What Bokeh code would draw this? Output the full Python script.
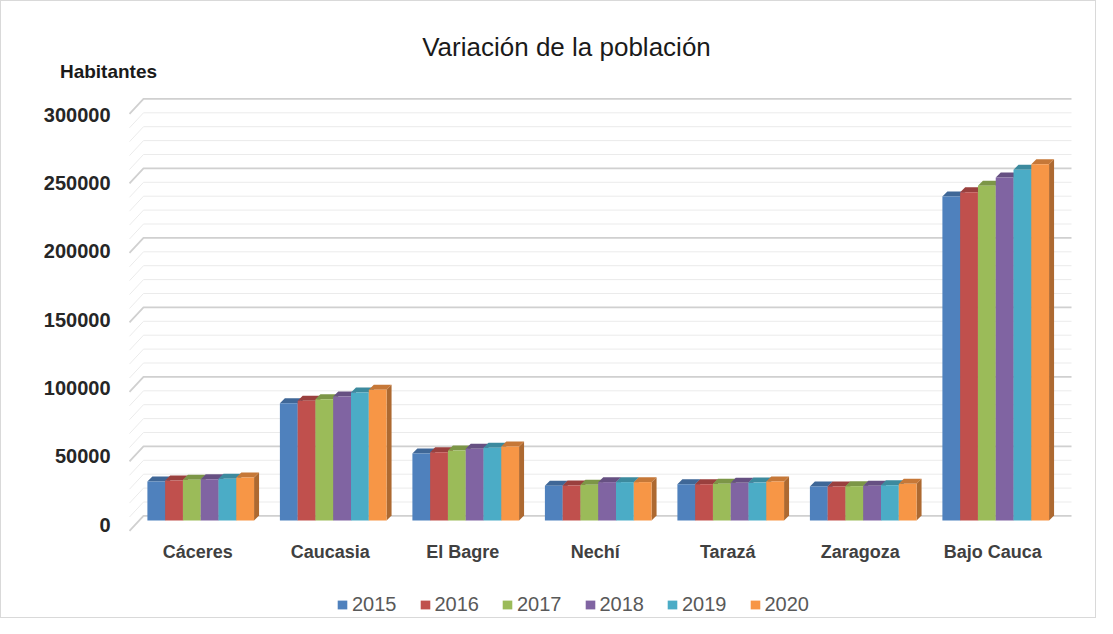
from bokeh.plotting import figure
from bokeh.models import Range1d, Legend, LegendItem
from bokeh.core.properties import value
from bokeh.embed import file_html
from bokeh.resources import INLINE

# ---------------- data ----------------
categories = ["Cáceres", "Caucasia", "El Bagre", "Nechí", "Tarazá", "Zaragoza", "Bajo Cauca"]
years = ["2015", "2016", "2017", "2018", "2019", "2020"]
v2015 = [28100, 84400, 48200, 25000, 26100, 24500, 233100]
v2016 = [28800, 86100, 49100, 25200, 26100, 24500, 236200]
v2017 = [29300, 87300, 50400, 25700, 26400, 24700, 240800]
v2018 = [29700, 89200, 51600, 27600, 27100, 25000, 246800]
v2019 = [30000, 92100, 52300, 27600, 27300, 25400, 252300]
v2020 = [30900, 94000, 53200, 27600, 28100, 26400, 256300]
series = [v2015, v2016, v2017, v2018, v2019, v2020]
y_ticks = [0, 50000, 100000, 150000, 200000, 250000, 300000]
y_tick_labels = ["0", "50000", "100000", "150000", "200000", "250000", "300000"]
grid_step = 10000
title_text = "Variación de la población"
y_title = "Habitantes"

# ---------------- styling ----------------
front_colors = ["#4F81BD", "#C0504D", "#9BBB59", "#8064A2", "#4BACC6", "#F79646"]
top_colors = ["#3F6797", "#9A403E", "#7C9647", "#665082", "#3C8A9E", "#C67838"]
side_colors = ["#375A84", "#863836", "#6C833E", "#594671", "#34788A", "#AD6931"]

W, H = 1096, 618
X0_PX = 130.0          # canvas x of category 0 edge
PX_PER_CAT = 132.5
Y0_PX = 519.0          # canvas y of value 0 at the bars' front face
PX_PER_VAL = 1.39 / 1000.0
LABEL_Y0_PX = 523.0    # canvas y of the "0" tick label
LABEL_PX_PER_VAL = 410.0 / 300000.0
FONT = "Liberation Sans"


def dxp(px):
    return px / PX_PER_CAT


def dyp(px):
    return px / PX_PER_VAL


def xd(px):
    return (px - X0_PX) / PX_PER_CAT


def yd(py):
    return (Y0_PX - py) / PX_PER_VAL


p = figure(width=W, height=H, output_backend="svg", toolbar_location=None,
           x_range=Range1d(xd(0), xd(W)), y_range=Range1d(yd(H), yd(0)),
           x_axis_location=None, y_axis_location=None,
           min_border_left=0, min_border_right=0, min_border_top=0, min_border_bottom=0)
p.outline_line_color = None
p.xgrid.visible = False
p.ygrid.visible = False
p.background_fill_color = "white"
p.border_fill_color = "white"
p.styles = {"border": "1px solid #d9d9d9"}

# ---------------- 3D gridlines (back wall + left slant) ----------------
x_front = xd(128)
x_back = xd(142)
x_end = xd(1070)
front_drop = dyp(10.4)
back_rise = dyp(4.6)
for major in (False, True):
    xs, ys = [], []
    v = 0
    while v <= y_ticks[-1]:
        if (v in y_ticks) == major:
            xs.append([x_front, x_back, x_end])
            ys.append([v - front_drop, v + back_rise, v + back_rise])
        v += grid_step
    p.multi_line(xs, ys, line_color="#d0d0d0" if major else "#ebebeb",
                 line_width=1.8 if major else 1.0)

# ---------------- 3D bars ----------------
group_off = 0.12
group_w = 0.805
bw = group_w / len(series)
ddx = dxp(5)
ddy = dyp(5)
legend_items = []
for j, vals in enumerate(series):
    side_xs, side_ys, top_xs, top_ys = [], [], [], []
    lefts, rights = [], []
    for i, v in enumerate(vals):
        l = i + group_off + j * bw
        r = l + bw
        lefts.append(l)
        rights.append(r)
        side_xs.append([r, r, r + ddx, r + ddx])
        side_ys.append([0, v, v + ddy, ddy])
        top_xs.append([l, r, r + ddx, l + ddx])
        top_ys.append([v, v, v + ddy, v + ddy])
    p.patches(side_xs, side_ys, fill_color=side_colors[j], line_color=None)
    p.patches(top_xs, top_ys, fill_color=top_colors[j], line_color=None)
    rf = p.quad(left=lefts, right=rights, bottom=0, top=vals,
                fill_color=front_colors[j], line_color=None)
    legend_items.append(LegendItem(label=years[j], renderers=[rf]))

# ---------------- axis texts ----------------
p.text(x=[xd(109)] * len(y_ticks),
       y=[yd(LABEL_Y0_PX - t * LABEL_PX_PER_VAL) for t in y_ticks],
       text=y_tick_labels, text_align="right", text_baseline="middle",
       text_font=value(FONT), text_font_style="bold", text_font_size="20px",
       text_color="#262626")
p.text(x=[i + 0.5 for i in range(len(categories))],
       y=[yd(550)] * len(categories),
       text=categories, text_align="center", text_baseline="middle",
       text_font=value(FONT), text_font_style="bold", text_font_size="18px",
       text_color="#404040")
p.text(x=[xd(565)], y=[yd(45)], text=[title_text],
       text_align="center", text_baseline="middle",
       text_font=value(FONT), text_font_size="26px", text_color="#1a1a1a")
p.text(x=[xd(107)], y=[yd(70)], text=[y_title],
       text_align="center", text_baseline="middle",
       text_font=value(FONT), text_font_style="bold", text_font_size="19px",
       text_color="#1a1a1a")

# ---------------- legend ----------------
legend = Legend(items=legend_items, orientation="horizontal",
                location=(335, H - 615),
                glyph_width=12, glyph_height=11, label_standoff=4, spacing=22,
                padding=0, margin=0, border_line_color=None,
                background_fill_alpha=0,
                label_text_font=FONT, label_text_font_size="20px",
                label_text_color="#595959")
p.add_layout(legend, "center")

open("out.html", "w").write(file_html(p, INLINE))
